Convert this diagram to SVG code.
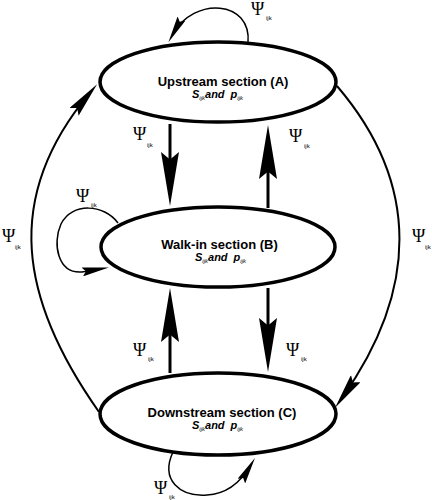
<svg xmlns="http://www.w3.org/2000/svg" width="432" height="500" viewBox="0 0 432 500">
<style>
.node{fill:#fff;stroke:#000;stroke-width:3.5}
.t{font-family:"Liberation Sans",Arial,sans-serif;font-weight:bold;font-size:13px;text-anchor:middle}
.s{font-family:"Liberation Sans",Arial,sans-serif;font-weight:bold;font-style:italic;font-size:11px}
.ss{font-size:6px;font-weight:normal}
.psi{font-family:"Liberation Serif","Times New Roman",serif;font-size:18px}
.sub{font-family:"Liberation Sans",Arial,sans-serif;font-size:6px}
.v{fill:none;stroke:#000;stroke-width:3}
.arc{fill:none;stroke:#000;stroke-width:2}
.loop{fill:none;stroke:#000;stroke-width:1.5}
</style>
<defs>
<marker id="ah" viewBox="0 0 18 6" refX="12" refY="3" markerWidth="18" markerHeight="6" orient="auto" markerUnits="strokeWidth">
<path d="M0,0 L18,3 L0,6 L2.5,3 Z" fill="#000"/>
</marker>
</defs>
<rect width="432" height="500" fill="#fff"/>
<g id="connectors" marker-end="url(#ah)">
<path class="v" d="M170,124 L170,188"/>
<path class="v" d="M268,208 L268,143"/>
<path class="v" d="M170,373 L170,306"/>
<path class="v" d="M268,288 L268,354"/>
<path class="arc" d="M99,412 C20,300 2,198 89.4,93.4"/>
<path class="arc" d="M337,86 C421.5,184.8 417.4,291.4 342,398"/>
<path class="loop" d="M248,43 C252,0 194,-4 172.8,34.3"/>
<path class="loop" d="M118,223 C104,204 72,202 61,224 C52,244 58,274 82,272 L100,269"/>
<path class="loop" d="M173,452 C160,480 180,497 207,495 C228,494 242,480 250.4,465.7"/>
</g>
<g id="nodeA">
<ellipse class="node" cx="218" cy="82" rx="118" ry="40"/>
<text class="t" x="223" y="86">Upstream section (A)</text>
<text class="s" x="192" y="98">S<tspan class="ss" dy="2">ijk</tspan><tspan dy="-2">and</tspan><tspan dx="6">p</tspan><tspan class="ss" dy="2">ijk</tspan></text>
</g>
<g id="nodeB">
<ellipse class="node" cx="218" cy="247" rx="117" ry="40"/>
<text class="t" x="219.5" y="249">Walk-in section (B)</text>
<text class="s" x="195" y="261">S<tspan class="ss" dy="2">ijk</tspan><tspan dy="-2">and</tspan><tspan dx="6">p</tspan><tspan class="ss" dy="2">ijk</tspan></text>
</g>
<g id="nodeC">
<ellipse class="node" cx="218" cy="414" rx="118" ry="41"/>
<text class="t" x="222" y="417">Downstream section (C)</text>
<text class="s" x="192" y="429">S<tspan class="ss" dy="2">ijk</tspan><tspan dy="-2">and</tspan><tspan dx="6">p</tspan><tspan class="ss" dy="2">ijk</tspan></text>
</g>
<g id="labels">
<text class="psi" x="251" y="15">Ψ</text><text class="sub" x="266" y="20">ijk</text>
<text class="psi" x="133" y="140">Ψ</text><text class="sub" x="147" y="147">ijk</text>
<text class="psi" x="289" y="142">Ψ</text><text class="sub" x="304" y="148">ijk</text>
<text class="psi" x="76" y="202">Ψ</text><text class="sub" x="91" y="207">ijk</text>
<text class="psi" x="2" y="242">Ψ</text><text class="sub" x="15" y="249">ijk</text>
<text class="psi" x="412" y="242">Ψ</text><text class="sub" x="425" y="249">ijk</text>
<text class="psi" x="133" y="356">Ψ</text><text class="sub" x="148" y="361">ijk</text>
<text class="psi" x="286" y="356">Ψ</text><text class="sub" x="301" y="361">ijk</text>
<text class="psi" x="154" y="494">Ψ</text><text class="sub" x="169" y="499">ijk</text>
</g>
</svg>
